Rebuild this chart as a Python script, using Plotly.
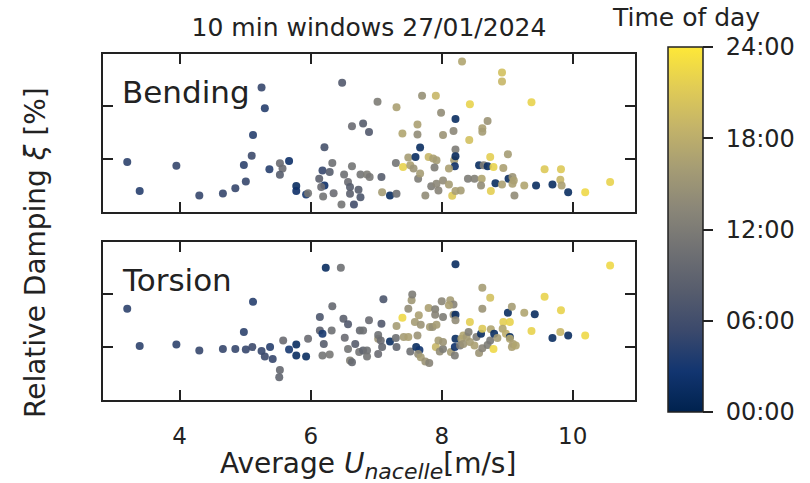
import plotly.graph_objects as go

# ---------------- data ----------------
# Bending panel: wind speed [m/s], damping, time of day [h]
bend_u = [3.20, 3.39, 3.95, 4.30, 4.66, 4.85, 5.01, 4.98, 5.10, 5.12, 5.25, 5.30, 5.37, 5.53, 5.57,
          5.53, 5.67, 5.78, 5.78, 5.93, 5.96, 6.21, 6.48, 6.18, 6.13, 6.21, 6.16, 6.19, 6.33, 6.29,
          6.35, 6.47, 6.51, 6.57, 6.60, 6.63, 6.60, 6.66, 6.73, 6.76, 6.63, 6.80, 6.89, 6.76, 6.86,
          6.90, 7.02, 7.08, 7.09, 7.21, 7.31, 7.31, 7.40, 7.30, 7.41, 7.49, 7.52, 7.57, 7.60, 7.67,
          7.63, 7.63, 7.64, 7.67, 7.75, 7.70, 7.91, 7.80, 7.87, 7.92, 7.89, 7.84, 7.92, 7.95, 8.02,
          8.11, 8.16, 8.21, 8.29, 7.99, 8.02, 8.18, 8.21, 8.21, 8.19, 8.21, 8.20, 8.11, 8.31, 8.43,
          8.42, 8.40, 8.50, 8.61, 8.60, 8.57, 8.64, 8.70, 8.62, 8.62, 8.70, 8.79, 8.74, 8.75, 8.82,
          8.92, 8.92, 8.92, 9.01, 9.02, 9.08, 8.94, 9.37, 9.08, 9.10, 9.11, 9.26, 9.44, 9.57, 9.69,
          9.81, 9.82, 9.83, 9.93, 10.19, 10.57]
bend_xi = [1.87, 0.77, 1.73, 0.60, 0.68, 0.88, 1.13, 1.76, 2.11, 2.89, 4.68, 3.90, 1.60, 1.82, 1.62,
           1.39, 1.91, 0.96, 0.77, 0.64, 0.69, 2.43, 4.86, 1.55, 1.24, 0.98, 0.92, 0.57, 1.83, 1.49,
           0.69, 0.26, 1.40, 1.11, 0.92, 1.71, 0.67, 0.26, 0.82, 0.54, 3.22, 3.32, 3.00, 1.40, 1.40,
           1.30, 4.15, 1.30, 0.73, 0.60, 0.67, 3.94, 2.95, 1.83, 1.68, 2.04, 1.75, 1.62, 2.06, 2.42,
           3.29, 2.91, 1.24, 1.43, 0.60, 4.37, 4.37, 2.06, 2.00, 1.94, 1.66, 0.95, 1.05, 0.79, 1.17,
           1.02, 0.59, 0.77, 0.79, 3.73, 2.89, 3.04, 3.49, 2.34, 1.94, 2.09, 1.71, 1.62, 5.67, 4.05,
           2.70, 1.24, 1.24, 1.24, 0.98, 1.75, 1.75, 1.71, 3.14, 3.01, 3.42, 1.68, 2.06, 0.77, 1.07,
           1.02, 5.25, 4.91, 2.16, 1.24, 1.05, 1.64, 4.13, 1.30, 1.17, 0.60, 0.98, 0.98, 1.60, 1.02,
           1.20, 1.60, 0.98, 0.73, 0.73, 1.11]
bend_t = [4.5, 4, 5, 5, 5, 5, 5, 4.5, 5.5, 4, 5, 4, 4, 10, 10,
          8, 2, 1.5, 2, 3, 11, 6.5, 7.5, 5, 8.5, 2, 10, 11, 10.5, 8,
          10, 11, 10.5, 10, 8, 11, 8.5, 6, 8, 7, 10, 8, 7.5, 11, 12,
          11.5, 12, 8, 16, 1.5, 10.5, 16.5, 17, 11, 22, 16, 16.5, 15, 1.5, 1.5,
          16.5, 14, 12, 16, 14, 14.5, 19, 19, 16.5, 16, 12, 12, 13.5, 13, 14,
          16, 21, 16.5, 16, 14, 15, 13.5, 1.5, 12, 16, 1, 2, 16.5, 17, 22,
          20, 12, 12.5, 17, 14, 1.5, 12, 1.5, 16.5, 16, 15, 22, 21.5, 21.5, 1.5,
          16.5, 20, 19, 16, 1.5, 16.5, 16.5, 22, 15, 16.5, 14, 17, 1.5, 21, 1.5,
          19, 21, 16.5, 1.5, 22.5, 22]

# Torsion panel
tors_u = [3.20, 3.39, 3.95, 4.30, 4.66, 4.85, 5.01, 5.11, 4.98, 5.12, 5.25, 5.30, 5.38, 5.42, 5.53,
          5.52, 5.58, 5.67, 5.78, 5.78, 5.93, 5.96, 6.14, 6.14, 6.18, 6.20, 6.18, 6.29, 6.32, 6.33,
          6.23, 6.46, 6.50, 6.57, 6.52, 6.57, 6.60, 6.63, 6.68, 6.75, 6.80, 6.89, 6.74, 6.80, 6.86,
          6.86, 7.03, 7.11, 7.08, 7.03, 7.07, 7.09, 7.03, 7.21, 7.31, 7.31, 7.30, 7.40, 7.42, 7.49,
          7.49, 7.54, 7.55, 7.52, 7.61, 7.66, 7.64, 7.68, 7.59, 7.65, 7.68, 7.75, 7.81, 7.63, 7.82,
          7.86, 7.92, 7.80, 7.90, 7.90, 8.00, 8.13, 8.18, 8.11, 8.02, 8.18, 8.21, 8.21, 8.21, 7.91,
          7.95, 7.97, 8.02, 8.02, 8.14, 8.20, 8.20, 8.21, 8.30, 8.33, 8.38, 8.28, 8.33, 8.43, 8.41,
          8.43, 8.50, 8.53, 8.60, 8.62, 8.74, 8.62, 8.62, 8.57, 8.62, 8.70, 8.75, 8.79, 8.74, 8.80,
          8.85, 8.94, 8.93, 8.98, 9.01, 9.07, 9.04, 9.07, 9.04, 9.04, 9.09, 9.13, 9.26, 9.37, 9.42,
          9.57, 9.69, 9.82, 9.81, 9.93, 10.19, 10.57]
tors_xi = [3.43, 2.02, 2.08, 1.85, 1.91, 1.91, 1.89, 1.98, 2.55, 3.69, 1.83, 1.62, 1.98, 1.53, 1.11,
           0.84, 2.23, 1.89, 2.08, 1.66, 1.62, 2.29, 3.12, 2.61, 2.48, 2.10, 1.66, 1.70, 2.61, 3.52,
           4.98, 4.98, 3.05, 2.84, 2.33, 1.91, 1.47, 1.41, 2.10, 2.61, 2.61, 2.99, 1.79, 1.85, 1.85,
           1.62, 2.29, 3.79, 2.86, 2.44, 2.23, 1.98, 1.72, 2.19, 1.98, 2.78, 2.32, 3.09, 2.36, 2.36,
           3.43, 3.75, 3.97, 1.81, 1.98, 1.87, 1.72, 1.60, 2.93, 3.18, 2.82, 1.43, 1.38, 2.42, 2.74,
           2.74, 2.82, 3.46, 3.41, 3.20, 3.71, 3.75, 3.59, 3.56, 3.12, 3.20, 3.20, 2.99, 5.11, 1.98,
           2.23, 1.81, 1.91, 2.17, 1.79, 1.98, 1.66, 2.29, 2.29, 2.42, 2.36, 2.04, 2.10, 2.93, 2.55,
           2.17, 2.04, 2.36, 2.48, 4.22, 3.84, 3.43, 2.67, 1.76, 1.94, 2.06, 2.65, 1.91, 2.23, 2.48,
           2.32, 2.93, 2.67, 2.48, 3.28, 3.50, 2.36, 1.98, 2.93, 2.29, 2.10, 2.04, 3.28, 2.59, 3.22,
           3.88, 2.32, 3.37, 2.55, 2.42, 2.42, 5.06]
tors_t = [4.5, 4.5, 4.5, 5, 5, 5, 5, 5.5, 4.5, 4, 5, 5.5, 4, 5, 9.5,
          9, 10, 3, 1.5, 1.5, 1.5, 10, 7, 8.5, 3, 8, 11, 11.5, 10.5, 9.5,
          1.5, 10.5, 8.5, 7.5, 10, 11, 12.5, 9.5, 8, 9.5, 10.5, 10, 11, 9, 10.5,
          11, 15, 7, 7.5, 10.5, 10, 9.5, 10, 1.5, 9, 16, 10.5, 22.5, 16, 16.5,
          14, 15.5, 12, 10.5, 1.5, 2.5, 14, 16, 16, 16.5, 15, 15, 13, 15, 16,
          14.5, 16, 16.5, 12.5, 13, 13.5, 16, 13, 16.5, 12, 14, 1.5, 14, 1.5, 19,
          16, 14, 12, 15, 16, 2, 12, 1.5, 16.5, 17, 16, 12, 15, 21.5, 12.5,
          16, 16.5, 12, 1.5, 16, 20, 15, 21, 15, 13, 12, 17, 22.5, 11.5, 1.5,
          16, 21.5, 17, 18, 1.5, 16, 1.5, 16.5, 22, 17, 16.5, 17, 17, 22, 1.5,
          22, 1.5, 22, 19, 1.5, 22.5, 22.5]

x_ticks = [4, 6, 8, 10]
y_ticks = [2, 4]
cbar_vals = [0, 6, 12, 18, 24]
cbar_text = ["00:00", "06:00", "12:00", "18:00", "24:00"]

# ---------------- figure ----------------
FONT = "DejaVu Sans"
INK = "#222222"
W, H = 810, 483
ML, MR, MT, MB = 103, 175, 54, 83
PW, PH = W - ML - MR, H - MT - MB
PANEL = 158

fig = go.Figure()
marker_common = dict(size=8, coloraxis="coloraxis", opacity=0.9, line=dict(width=0))
fig.add_trace(go.Scatter(x=bend_u, y=bend_xi, mode="markers", xaxis="x", yaxis="y",
                         marker=dict(color=bend_t, **marker_common), showlegend=False))
fig.add_trace(go.Scatter(x=tors_u, y=tors_xi, mode="markers", xaxis="x2", yaxis="y2",
                         marker=dict(color=tors_t, **marker_common), showlegend=False))

axis_common = dict(showgrid=False, zeroline=False, showline=True, linewidth=2, linecolor=INK,
                   mirror="ticks", ticks="inside", ticklen=10, tickwidth=2, tickcolor=INK)
xr = [2.83, 10.95]
yr = [-0.02, 5.95]

fig.update_layout(
    width=W, height=H, autosize=False,
    margin=dict(l=ML, r=MR, t=MT, b=MB),
    paper_bgcolor="white", plot_bgcolor="white",
    font=dict(family=FONT, color=INK),
    title=dict(text="10 min windows 27/01/2024", x=0.5, xref="paper", xanchor="center",
               y=1 - 27 / H, yref="container", yanchor="middle",
               font=dict(size=25, family=FONT, color=INK)),
    xaxis=dict(domain=[0, 1], range=xr, anchor="y", tickvals=x_ticks, showticklabels=False,
               **axis_common),
    yaxis=dict(domain=[1 - PANEL / PH, 1], range=yr, anchor="x", tickvals=y_ticks,
               showticklabels=False, **axis_common),
    xaxis2=dict(domain=[0, 1], range=xr, anchor="y2", tickvals=x_ticks, showticklabels=True,
                tickfont=dict(size=23, family=FONT, color=INK), ticklabelstandoff=14,
                **axis_common),
    yaxis2=dict(domain=[0, PANEL / PH], range=yr, anchor="x2", tickvals=y_ticks,
                showticklabels=False, **axis_common),
    coloraxis=dict(
        colorscale="Cividis", cmin=0, cmax=24,
        colorbar=dict(
            xref="paper", x=(668 - ML) / PW, xanchor="left",
            yref="paper", y=(MT + PH - 47) / PH, yanchor="top",
            len=365 / PH, lenmode="fraction", thickness=35, thicknessmode="pixels",
            outlinewidth=1.5, outlinecolor=INK, xpad=0, ypad=0,
            tickvals=cbar_vals, ticktext=["\u00a0" + s for s in cbar_text],
            ticks="outside", ticklen=10, tickwidth=2, tickcolor=INK,
            tickfont=dict(size=24, family=FONT, color=INK),
        ),
    ),
)

fig.add_annotation(text="Bending", xref="x domain", yref="y domain", x=(120 - ML) / PW,
                   y=(212 - 92) / PANEL, xanchor="left", yanchor="middle", showarrow=False,
                   font=dict(size=31, family=FONT, color=INK))
fig.add_annotation(text="Torsion", xref="x2 domain", yref="y2 domain", x=(120 - ML) / PW,
                   y=(400 - 280) / PANEL, xanchor="left", yanchor="middle", showarrow=False,
                   font=dict(size=31, family=FONT, color=INK))
fig.add_annotation(text="Relative Damping <i>ξ</i> [%]", xref="paper", yref="paper",
                   x=(35 - ML) / PW, y=(MT + PH - 253) / PH, xanchor="center", yanchor="middle",
                   textangle=-90, showarrow=False, font=dict(size=28, family=FONT, color=INK))
fig.add_annotation(text="Average <i>U</i><sub><i><span style='font-size:22px'>nacelle</span></i></sub>[m/s]",
                   xref="paper", yref="paper",
                   x=(368 - ML) / PW, y=(MT + PH - 465) / PH, xanchor="center", yanchor="middle",
                   showarrow=False, font=dict(size=28, family=FONT, color=INK))
fig.add_annotation(text="Time of day", xref="paper", yref="paper",
                   x=(686 - ML) / PW, y=(MT + PH - 18) / PH, xanchor="center", yanchor="middle",
                   showarrow=False, font=dict(size=25, family=FONT, color=INK))

fig.write_html("out.html")
